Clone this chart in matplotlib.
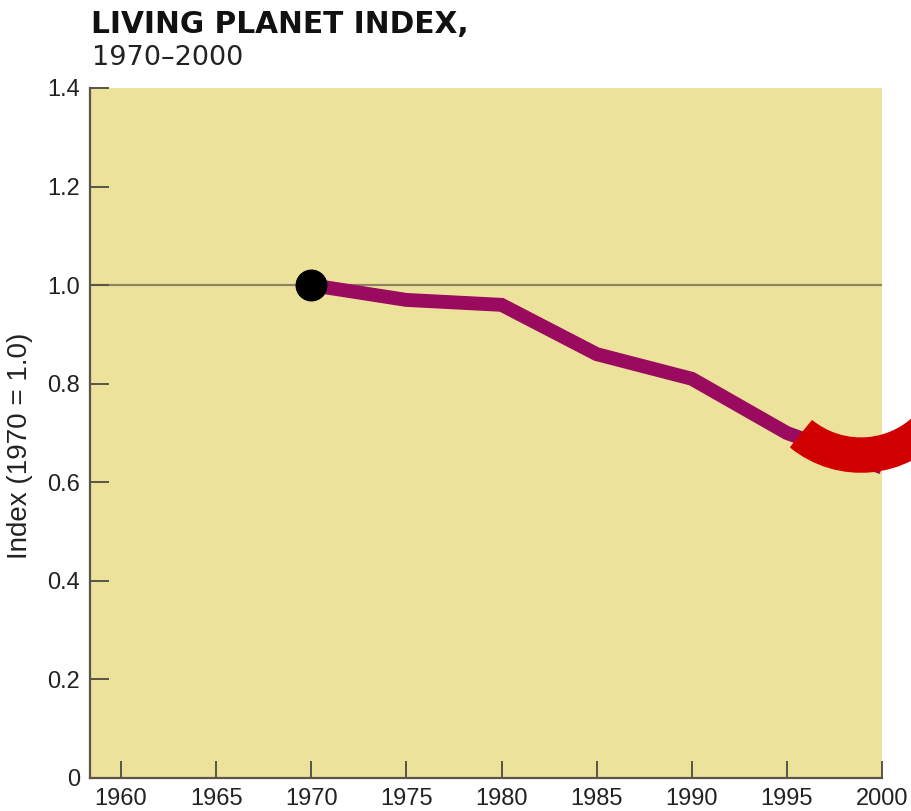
import matplotlib
matplotlib.use("Agg")

import matplotlib.pyplot as plt
from matplotlib.patches import Wedge

# -------------------------------------------------
# DATA
# -------------------------------------------------
years = [1970, 1975, 1980, 1985, 1990, 1995, 2000]
index_values = [1.00, 0.97, 0.96, 0.86, 0.81, 0.70, 0.63]

x_ticks = [1960, 1965, 1970, 1975, 1980, 1985, 1990, 1995, 2000]
y_ticks = [0, 0.2, 0.4, 0.6, 0.8, 1.0, 1.2, 1.4]
y_tick_labels = ["0", "0.2", "0.4", "0.6", "0.8", "1.0", "1.2", "1.4"]

title = "LIVING PLANET INDEX,"
subtitle = "1970\u20132000"
y_label = "Index (1970 = 1.0)"

# -------------------------------------------------
# STYLE
# -------------------------------------------------
bg_fill = "#EDE29B"
line_color = "#9A0A5E"
arrow_red = "#D10000"
spine_color = "#5A5548"
ref_line_color = "#8C8465"
font_narrow = ["Liberation Sans Narrow", "Liberation Sans", "DejaVu Sans"]

fig = plt.figure(figsize=(9.11, 8.11), dpi=100)
ax = fig.add_axes([0.0988, 0.0407, 0.8694, 0.8508])
ax.set_facecolor(bg_fill)

ax.set_xlim(1958.37, 2000)
ax.set_ylim(0, 1.4)

# reference line at 1970 level
ax.axhline(1.0, color=ref_line_color, linewidth=1.6, zorder=1)

# index line
ax.plot(years, index_values, color=line_color, linewidth=10,
        solid_capstyle="butt", solid_joinstyle="miter", zorder=2)

# starting dot
ax.plot(years[0], index_values[0], "o", color="black",
        markersize=22, zorder=3)

# spines / ticks
for side in ["top", "right"]:
    ax.spines[side].set_visible(False)
for side in ["left", "bottom"]:
    ax.spines[side].set_color(spine_color)
    ax.spines[side].set_linewidth(1.6)

ax.set_xticks(x_ticks)
ax.set_xticklabels([str(t) for t in x_ticks],
                   fontfamily=font_narrow, fontsize=17, color="#222222")
ax.set_yticks(y_ticks)
ax.set_yticklabels(y_tick_labels,
                   fontfamily=font_narrow, fontsize=17, color="#222222")
ax.tick_params(axis="x", direction="in", length=12, width=1.4,
               color=spine_color, pad=7)
ax.tick_params(axis="y", direction="in", length=14, width=1.4,
               color=spine_color, pad=7)

ax.set_ylabel(y_label, fontfamily=font_narrow, fontsize=20, color="#222222")
ax.yaxis.set_label_coords(-0.072, 0.481)

# title block
fig.text(0.100, 0.959, title, fontfamily="DejaVu Sans",
         fontweight="bold", fontsize=21.3, color="#111111", va="baseline")
fig.text(0.101, 0.920, subtitle, fontfamily="DejaVu Sans",
         fontsize=19.5, color="#222222", va="baseline")

# red curved arrow near the end of the line
arc = Wedge((8.609, 4.504), 1.115, -129, -40, width=0.34,
            transform=fig.dpi_scale_trans, color=arrow_red,
            zorder=5, clip_on=False)
fig.patches.append(arc)

plt.savefig("out.png", dpi=100)
plt.close()
